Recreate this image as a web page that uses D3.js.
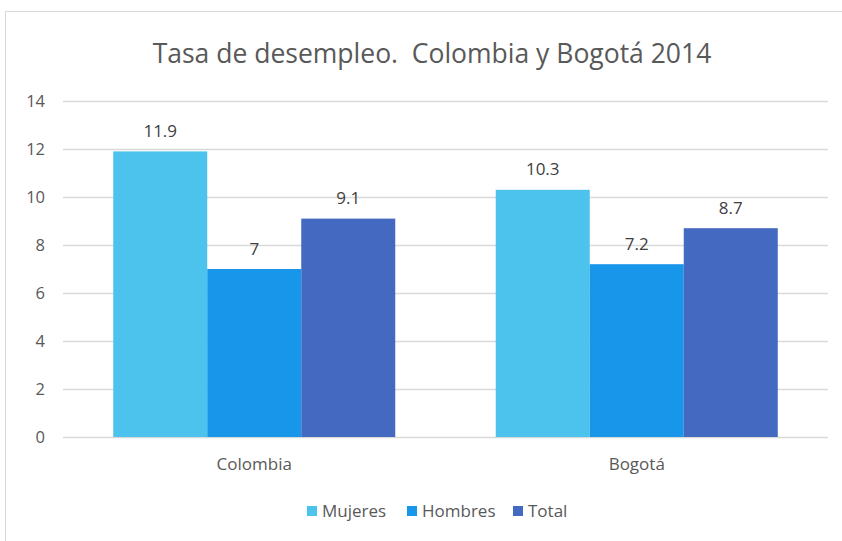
<!DOCTYPE html>
<html><head><meta charset="utf-8">
<script src="https://cdn.jsdelivr.net/npm/d3@7"></script>
<style>body{margin:0;background:#fff}svg{display:block}</style>
</head><body>
<script>
const categories = ["Colombia", "Bogotá"];
const seriesNames = ["Mujeres", "Hombres", "Total"];
const mujeres = [11.9, 10.3];
const hombres = [7, 7.2];
const total = [9.1, 8.7];
const yTicks = [0, 2, 4, 6, 8, 10, 12, 14];
const colors = ["#4BC3EC", "#1897EA", "#4469C0"];
const title = "Tasa de desempleo.  Colombia y Bogotá 2014";

const W = 842, H = 541;
const font = "'Open Sans', 'Noto Sans', sans-serif";
const svg = d3.select("body").append("svg").attr("width", W).attr("height", H);
svg.append("rect").attr("x", 5.5).attr("y", 11.5).attr("width", W + 10).attr("height", H + 10)
  .attr("fill", "#fff").attr("stroke", "#d9d9d9").attr("stroke-width", 1);

const m = {left: 63, right: 828, top: 101, bottom: 437};
const x0 = d3.scaleBand().domain(categories).range([m.left, m.right]).paddingInner(0.2627).paddingOuter(0.13135);
const x1 = d3.scaleBand().domain(seriesNames).range([0, x0.bandwidth()]);
const y = d3.scaleLinear().domain([0, 14]).range([m.bottom, m.top]);

// grid
svg.append("g").selectAll("line").data(yTicks).join("line")
  .attr("x1", m.left).attr("x2", m.right)
  .attr("y1", d => Math.round(y(d)) + 0.5).attr("y2", d => Math.round(y(d)) + 0.5)
  .attr("stroke", "#d9d9d9").attr("stroke-width", 1.3);

// y labels
svg.append("g").selectAll("text").data(yTicks).join("text")
  .attr("x", 45).attr("y", d => y(d)).attr("dy", "0.36em").attr("text-anchor", "end")
  .attr("font-family", font).attr("font-size", 16.5).attr("fill", "#595959").text(d => d);

const data = categories.map((c, i) => ({cat: c, vals: [mujeres[i], hombres[i], total[i]]}));
const g = svg.append("g").selectAll("g").data(data).join("g").attr("transform", d => `translate(${x0(d.cat)},0)`);
g.selectAll("rect").data(d => d.vals.map((v, j) => ({v, s: seriesNames[j], j}))).join("rect")
  .attr("x", d => x1(d.s)).attr("width", x1.bandwidth())
  .attr("y", d => y(d.v)).attr("height", d => y(0) - y(d.v)).attr("fill", d => colors[d.j]);
g.selectAll("text").data(d => d.vals.map((v, j) => ({v, s: seriesNames[j], j}))).join("text")
  .attr("x", d => x1(d.s) + x1.bandwidth() / 2).attr("y", d => y(d.v) - 14.5)
  .attr("text-anchor", "middle").attr("font-family", font).attr("font-size", 17).attr("fill", "#404040")
  .text(d => d.v);

// x labels
svg.append("g").selectAll("text").data(categories).join("text")
  .attr("x", d => x0(d) + x0.bandwidth() / 2).attr("y", 470).attr("text-anchor", "middle")
  .attr("font-family", font).attr("font-size", 17).attr("fill", "#595959").text(d => d);

// title
svg.append("text").attr("x", 432).attr("y", 63).attr("text-anchor", "middle")
  .attr("font-family", font).attr("font-size", 26.5).attr("fill", "#595959").attr("xml:space","preserve").style("white-space","pre").text(title);

// legend
const legX = [307, 407, 513];
const lg = svg.append("g").selectAll("g").data(seriesNames).join("g")
  .attr("transform", (d, i) => `translate(${legX[i]},0)`);
lg.append("rect").attr("x", 0).attr("y", 506).attr("width", 10).attr("height", 10).attr("fill", (d, i) => colors[i]);
lg.append("text").attr("x", 15).attr("y", 517).attr("font-family", font).attr("font-size", 17)
  .attr("fill", "#595959").text(d => d);
</script>
</body></html>
